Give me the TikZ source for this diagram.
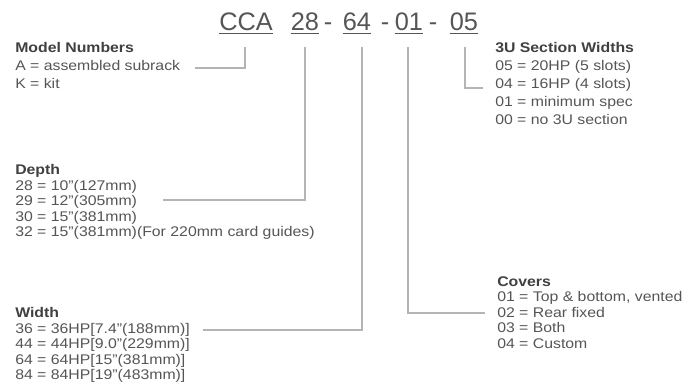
\documentclass[tikz,border=0pt]{standalone}
\usepackage{fontspec}
\setmainfont{Liberation Sans}[FakeStretch=1.13]
\newfontfamily\codefont{Liberation Sans}
\definecolor{inkgrey}{HTML}{555555}
\definecolor{headgrey}{HTML}{404040}
\definecolor{linegrey}{HTML}{B4B4B4}
\begin{document}
\begin{tikzpicture}[x=0.75pt,y=-0.75pt,
  code/.style={font=\codefont\fontsize{19}{22}\selectfont,text=inkgrey,anchor=base,inner sep=0pt},
  legend/.style={anchor=north west,align=left,inner sep=0pt,text=inkgrey,
    font=\fontsize{10.5}{11.7}\selectfont},
  wide legend/.style={legend,font=\fontsize{10.5}{13.6}\selectfont},
  leader/.style={draw=linegrey,line width=0.9pt}]
  \useasboundingbox (0,0) rectangle (697,392);
  % part number
  \node[code] (cca)  at (246,31) {\underline{CCA}};
  \node[code] (c28)  at (305,31) {\underline{28}};
  \node[code] (hyph1) at (328,31) {-};
  \node[code] (c64)  at (357,31) {\underline{64}};
  \node[code] (hyph2) at (385,31) {-};
  \node[code] (c01)  at (409,31) {\underline{01}};
  \node[code] (hyph3) at (433,31) {-};
  \node[code] (c05)  at (464,31) {\underline{05}};
  % keys
  \node[wide legend] (model) at (15,42)
    {\textcolor{headgrey}{\textbf{Model Numbers}}\\A = assembled subrack\\K = kit};
  \node[wide legend] (sections) at (495,42)
    {\textcolor{headgrey}{\textbf{3U Section Widths}}\\05 = 20HP (5 slots)\\04 = 16HP (4 slots)\\
     01 = minimum spec\\00 = no 3U section};
  \node[legend] (depthkey) at (15,164)
    {\textcolor{headgrey}{\textbf{Depth}}\\28 = 10"(127mm)\\29 = 12"(305mm)\\30 = 15"(381mm)\\
     32 = 15"(381mm)(For 220mm card guides)};
  \node[legend] (widthkey) at (15,307)
    {\textcolor{headgrey}{\textbf{Width}}\\36 = 36HP[7.4"(188mm)]\\44 = 44HP[9.0"(229mm)]\\
     64 = 64HP[15"(381mm)]\\84 = 84HP[19"(483mm)]};
  \node[legend] (covers) at (497,276)
    {\textcolor{headgrey}{\textbf{Covers}}\\01 = Top \& bottom, vented\\02 = Rear fixed\\03 = Both\\04 = Custom};
  % leaders
  \coordinate (model end) at (195,68);
  \coordinate (depth end) at (163,200);
  \coordinate (width end) at (203,330);
  \coordinate (covers end) at (485,313);
  \coordinate (sections end) at (483,88);
  \draw[leader] (cca.base) ++(-1,16) |- (model end);
  \draw[leader] (c28.base) ++(0,16) |- (depth end);
  \draw[leader] (c64.base) ++(5,16) |- (width end);
  \draw[leader] (c01.base) ++(-1,16) |- (covers end);
  \draw[leader] (c05.base) ++(1,16) |- (sections end);
\end{tikzpicture}
\end{document}
